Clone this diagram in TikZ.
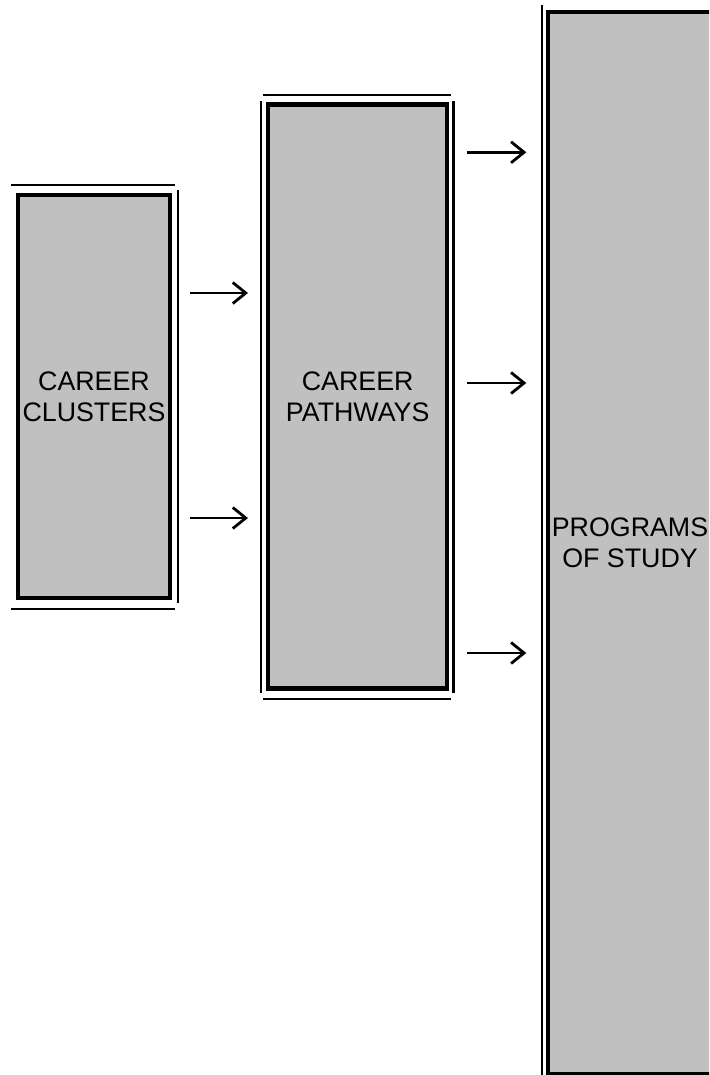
\documentclass[tikz,border=0pt]{standalone}
\usepackage{fontspec}
\setsansfont{Liberation Sans}
\usepackage{tikz}
\usetikzlibrary{arrows.meta,positioning}
\definecolor{boxgray}{HTML}{C0C0C0}

\tikzset{
    stagebox/.style={draw=black, fill=boxgray, line width=4.5pt, inner sep=0pt, outer sep=0pt,
        align=center, font=\sffamily\fontsize{26.8}{31}\selectfont},
    rule/.style={line width=2.4pt},
    flow/.style={line width=2.6pt, -{Straight Barb[length=13pt,width=21pt,line width=2.8pt]}}
}

\begin{document}
\begin{tikzpicture}[x=1pt, y=-1pt]
    \useasboundingbox (0,0) rectangle (709,1075);
    \clip (0,0) rectangle (709,1075);

    % Stage boxes
    \node[stagebox, minimum width=152pt, minimum height=403pt] (clusters) at (94,396.5) {CAREER\\CLUSTERS};
    \node[stagebox, minimum width=179pt, minimum height=584pt] (pathways) at (357.7,396.7) {CAREER\\PATHWAYS};
    \node[stagebox, minimum width=164pt, minimum height=1062pt] (programs) at (630,542.8) {PROGRAMS\\OF STUDY};

    % Thin rules round the clusters box
    \draw[rule] ([xshift=-7pt,yshift=10pt]clusters.north west) -- ([xshift=5pt,yshift=10pt]clusters.north east);
    \draw[rule] ([xshift=-7pt,yshift=-11pt]clusters.south west) -- ([xshift=5pt,yshift=-11pt]clusters.south east);
    \draw[rule] ([xshift=7.7pt,yshift=5pt]clusters.north east) -- ([xshift=7.7pt,yshift=-5pt]clusters.south east);

    % Thin rules round the pathways box
    \draw[rule] ([xshift=-5.3pt,yshift=9.7pt]pathways.north west) -- ([xshift=3.7pt,yshift=9.7pt]pathways.north east);
    \draw[rule] ([xshift=-5.3pt,yshift=-10.3pt]pathways.south west) -- ([xshift=3.7pt,yshift=-10.3pt]pathways.south east);
    \draw[rule] ([xshift=-7pt,yshift=3.7pt]pathways.north west) -- ([xshift=-7pt,yshift=-4pt]pathways.south west);
    \draw[rule] ([xshift=6.4pt,yshift=3.7pt]pathways.north east) -- ([xshift=6.4pt,yshift=-4pt]pathways.south east);

    % Thin rule left of the programs box
    \draw[rule] ([xshift=-6.3pt,yshift=7pt]programs.north west) -- ([xshift=-6.3pt,yshift=-4pt]programs.south west);

    % Arrows
    \foreach \y [count=\i] in {293,518} {
        \coordinate (cp\i) at (190,\y);
        \draw[flow] (cp\i) -- ++(58,0);
    }
    \foreach \y [count=\i] in {152.3,383,653} {
        \coordinate (pp\i) at (467.3,\y);
        \draw[flow] (pp\i) -- ++(59,0);
    }
\end{tikzpicture}
\end{document}
